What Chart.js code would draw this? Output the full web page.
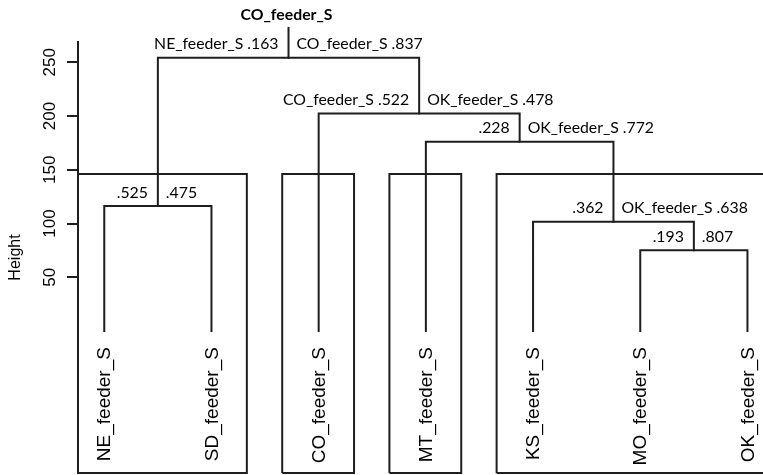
<!DOCTYPE html>
<html><head><meta charset="utf-8">
<script src="https://cdn.jsdelivr.net/npm/chart.js@4.4.0/dist/chart.umd.min.js"></script>
<style>html,body{margin:0;padding:0;background:#fff;}#wrap{width:763px;height:475px;position:relative;}</style>
</head><body><div id="wrap"><canvas id="c"></canvas></div>
<script>
// ---- data ----
const leaves = ['NE_feeder_S','SD_feeder_S','CO_feeder_S','MT_feeder_S','KS_feeder_S','MO_feeder_S','OK_feeder_S'];
// hclust convention: negative = leaf (1-based), positive = earlier merge (1-based)
const mergeLeft   = [-6, -5, -1, -4, -3, 3];
const mergeRight  = [-7,  1, -2,  2,  4, 5];
const mergeHeight = [75.3, 101.7, 116.3, 176.1, 202.5, 254.2];
const leftLabels  = ['.193', '.362', '.525', '.228', 'CO_feeder_S .522', 'NE_feeder_S .163'];
const rightLabels = ['.807', 'OK_feeder_S .638', '.475', 'OK_feeder_S .772', 'OK_feeder_S .478', 'CO_feeder_S .837'];
const rootLabel = 'CO_feeder_S';
const rootStemTop = 282;
const clusters = [[1,2],[3],[4],[5,6,7]];
const yTicks = [50, 100, 150, 200, 250];
const yTitle = 'Height';

// ---- build geometry from data ----
const Y_MIN = -132, Y_MAX = 268.9, X_MIN = 0.755, X_MAX = 7.145;
const nodeX = [], nodeY = [];
function childPos(c){ return c < 0 ? [ -c, 0 ] : [ nodeX[c-1], nodeY[c-1] ]; }
const treeSets = [];
mergeHeight.forEach((h, i) => {
  const [xl, yl] = childPos(mergeLeft[i]);
  const [xr, yr] = childPos(mergeRight[i]);
  nodeX.push((xl + xr) / 2); nodeY.push(h);
  treeSets.push([{x:xl,y:yl},{x:xl,y:h},{x:xr,y:h},{x:xr,y:yr}]);
});
const rootIdx = mergeHeight.length - 1;
treeSets.push([{x:nodeX[rootIdx], y:nodeY[rootIdx]}, {x:nodeX[rootIdx], y:rootStemTop}]);

const sortedH = [...mergeHeight].sort((a,b)=>b-a);
const k = clusters.length;
const boxTop = (sortedH[k-2] + sortedH[k-1]) / 2;
const boxSets = clusters.map(g => {
  const l = g[0] - 0.34, r = g[g.length-1] + 0.33;
  return [{x:l,y:Y_MIN},{x:l,y:boxTop},{x:r,y:boxTop},{x:r,y:Y_MIN},{x:l,y:Y_MIN}];
});

const LINE = '#1e1e1e';
const datasets = [];
treeSets.forEach(d => datasets.push({data:d, showLine:true, borderColor:LINE, borderWidth:2, pointRadius:0, clip:false, borderCapStyle:'square'}));
boxSets.forEach(d => datasets.push({data:d, showLine:true, borderColor:LINE, borderWidth:2, pointRadius:0, clip:{left:0,top:0,right:0,bottom:3}}));

const textPlugin = {
  id: 'dendroText',
  afterDatasetsDraw(chart) {
    const {ctx, scales:{x, y}} = chart;
    ctx.save();
    ctx.fillStyle = '#000';
    ctx.font = '15.8px Lato';
    ctx.textBaseline = 'middle';
    mergeHeight.forEach((h, i) => {
      const px = x.getPixelForValue(nodeX[i]);
      const py = y.getPixelForValue(h) - 13.5;
      ctx.textAlign = 'right'; ctx.fillText(leftLabels[i], px - 10, py);
      ctx.textAlign = 'left';  ctx.fillText(rightLabels[i], px + 8, py);
    });
    ctx.font = 'bold 15.8px Lato';
    ctx.textAlign = 'center';
    ctx.fillText(rootLabel, x.getPixelForValue(nodeX[rootIdx]) - 2, y.getPixelForValue(rootStemTop) - 13);
    ctx.font = '19px "Liberation Sans"';
    leaves.forEach((name, i) => {
      const px = x.getPixelForValue(i + 1);
      const py = y.getPixelForValue(0) + 16;
      ctx.save(); ctx.translate(px, py); ctx.rotate(-Math.PI/2);
      ctx.textAlign = 'right'; ctx.textBaseline = 'middle';
      ctx.fillText(name, 0, 1);
      ctx.restore();
    });
    ctx.restore();
  }
};

new Chart(document.getElementById('c'), {
  type: 'scatter',
  data: { datasets },
  plugins: [textPlugin],
  options: {
    responsive: true, maintainAspectRatio: false, animation: false, events: [],
    layout: { padding: { top: 42, right: 0, bottom: 2, left: 0 } },
    plugins: { legend: {display:false}, tooltip: {enabled:false} },
    scales: {
      x: { type:'linear', min:X_MIN, max:X_MAX, display:false },
      y: {
        type:'linear', min:Y_MIN, max:Y_MAX,
        afterBuildTicks: s => { s.ticks = yTicks.map(v => ({value:v})); },
        afterFit: s => { s.width = 78; s.paddingTop = 0; s.paddingBottom = 0; },
        grid: { drawOnChartArea:false, drawTicks:true, tickLength:11, color:LINE, lineWidth:2 },
        border: { display:true, color:LINE, width:2 },
        ticks: { minRotation:90, maxRotation:90, crossAlign:'center', padding:3, color:'#000',
                 font:{ family:'Liberation Sans', size:17 } },
        title: { display:true, text:yTitle, color:'#000', font:{ family:'Liberation Sans', size:16 },
                 padding:{ top:6, bottom:0 } }
      }
    }
  }
});
</script></body></html>
